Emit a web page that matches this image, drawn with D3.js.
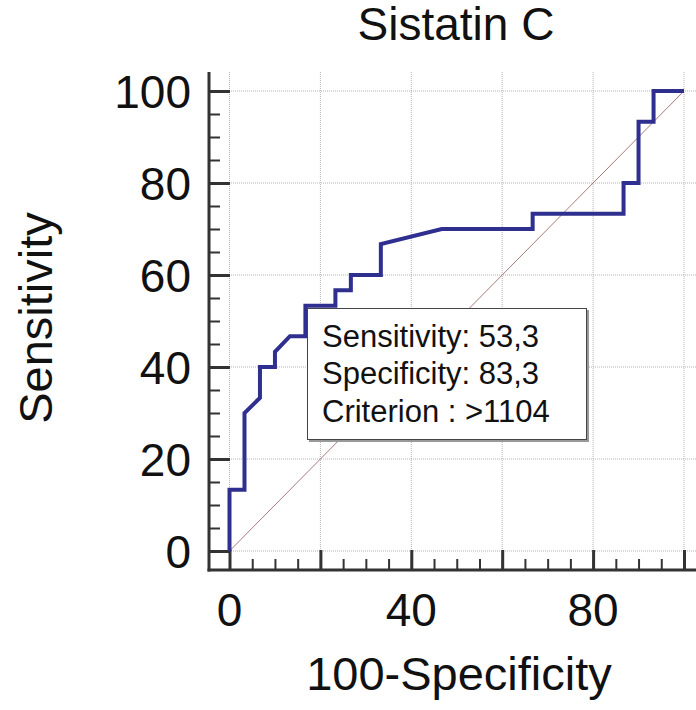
<!DOCTYPE html>
<html>
<head>
<meta charset="utf-8">
<script src="https://cdn.jsdelivr.net/npm/d3@7"></script>
<style>
  body { margin: 0; background: #fff; }
  svg text { font-family: "Liberation Sans", Arial, sans-serif; fill: #111; }
</style>
</head>
<body>
<svg id="chart" width="696" height="710"></svg>
<script>
// ROC points: 100-specificity (x) and sensitivity (y)
const fpr = [0, 0, 3.3, 3.3, 6.7, 6.7, 10, 10, 13.3, 16.7, 16.7, 23.3, 23.3, 26.7, 26.7, 33.3, 33.3, 46.7, 66.7, 66.7, 86.7, 86.7, 90, 90, 93.3, 93.3, 100];
const tpr = [0, 13.3, 13.3, 30, 33.3, 40, 40, 43.3, 46.7, 46.7, 53.3, 53.3, 56.7, 56.7, 60, 60, 66.7, 70, 70, 73.3, 73.3, 80, 80, 93.3, 93.3, 100, 100];
const yTickLabels = [0, 20, 40, 60, 80, 100];
const xTickLabels = [0, 40, 80];
const gridValues = [0, 20, 40, 60, 80, 100];
const boxLines = ["Sensitivity: 53,3", "Specificity: 83,3", "Criterion : >1104"];

const svg = d3.select("#chart");

const x = d3.scaleLinear().domain([0, 100]).range([229.5, 684]);
const y = d3.scaleLinear().domain([0, 100]).range([551, 91]);

// axis lines sit away from the data area
const axisX = 209, axisY = 570, plotTop = 72, plotRight = 696;

// dotted grid
const grid = svg.append("g")
    .attr("stroke", "#b4b4b4")
    .attr("stroke-width", 1)
    .attr("stroke-dasharray", "1,1");
grid.selectAll("line.v").data(gridValues).join("line")
    .attr("class", "v")
    .attr("x1", d => x(d)).attr("x2", d => x(d))
    .attr("y1", plotTop).attr("y2", axisY);
grid.selectAll("line.h").data(gridValues).join("line")
    .attr("class", "h")
    .attr("x1", axisX).attr("x2", plotRight)
    .attr("y1", d => y(d)).attr("y2", d => y(d));

// ticks pointing inwards: major every 20, minor every 5
const minor = d3.range(0, 101, 5);
function ticks(axis, values, size) {
  return axis.tickValues(values).tickSize(-size).tickFormat("");
}
const yMinor = svg.append("g").attr("transform", `translate(${axisX},0)`)
    .call(ticks(d3.axisLeft(y), minor, 11));
const yMajor = svg.append("g").attr("transform", `translate(${axisX},0)`)
    .call(ticks(d3.axisLeft(y), gridValues, 21));
const xMinor = svg.append("g").attr("transform", `translate(0,${axisY})`)
    .call(ticks(d3.axisBottom(x), minor, 11));
const xMajor = svg.append("g").attr("transform", `translate(0,${axisY})`)
    .call(ticks(d3.axisBottom(x), gridValues, 20));
[yMinor, yMajor, xMinor, xMajor].forEach(g => {
  g.select(".domain").remove();
  g.selectAll(".tick line").attr("stroke", "#333").attr("stroke-width", 2);
});
yMajor.selectAll(".tick line").attr("stroke-width", 3);
xMajor.selectAll(".tick line").attr("stroke-width", 3);

// axis lines
svg.append("line").attr("x1", axisX).attr("x2", axisX).attr("y1", plotTop).attr("y2", axisY + 1.5)
    .attr("stroke", "#333").attr("stroke-width", 3);
svg.append("line").attr("x1", axisX - 1.5).attr("x2", plotRight).attr("y1", axisY).attr("y2", axisY)
    .attr("stroke", "#333").attr("stroke-width", 3);

// tick labels
svg.append("g").selectAll("text").data(yTickLabels).join("text")
    .attr("x", 191).attr("y", d => y(d))
    .attr("dy", "0.36em")
    .attr("text-anchor", "end")
    .attr("font-size", 46)
    .text(d => d);
svg.append("g").selectAll("text").data(xTickLabels).join("text")
    .attr("x", d => x(d)).attr("y", 626)
    .attr("text-anchor", "middle")
    .attr("font-size", 46)
    .text(d => d);

// diagonal reference
svg.append("line")
    .attr("x1", x(0)).attr("y1", y(0)).attr("x2", x(100)).attr("y2", y(100))
    .attr("stroke", "#a87a78").attr("stroke-width", 1);

// ROC curve
const pts = fpr.map((d, i) => [d, tpr[i]]);
svg.append("path")
    .datum(pts)
    .attr("fill", "none")
    .attr("stroke", "#2f2f8f")
    .attr("stroke-width", 4)
    .attr("stroke-linejoin", "miter")
    .attr("d", d3.line().x(d => x(d[0])).y(d => y(d[1])));

// annotation box
const box = svg.append("g");
box.append("rect").attr("x", 309).attr("y", 310).attr("width", 280).attr("height", 132)
    .attr("fill", "#999");
box.append("rect").attr("x", 307.5).attr("y", 308.5).attr("width", 279).attr("height", 131)
    .attr("fill", "#fff").attr("stroke", "#444").attr("stroke-width", 1);
box.selectAll("text").data(boxLines).join("text")
    .attr("x", 322).attr("y", (d, i) => 346.5 + i * 37.5)
    .attr("font-size", 31)
    .text(d => d);

// titles
svg.append("text").attr("x", 456).attr("y", 40).attr("text-anchor", "middle")
    .attr("font-size", 46).text("Sistatin C");
svg.append("text").attr("x", 459).attr("y", 690).attr("text-anchor", "middle")
    .attr("font-size", 47).text("100-Specificity");
svg.append("text")
    .attr("transform", "translate(52,318) rotate(-90)")
    .attr("text-anchor", "middle")
    .attr("font-size", 47).text("Sensitivity");
</script>
</body>
</html>
